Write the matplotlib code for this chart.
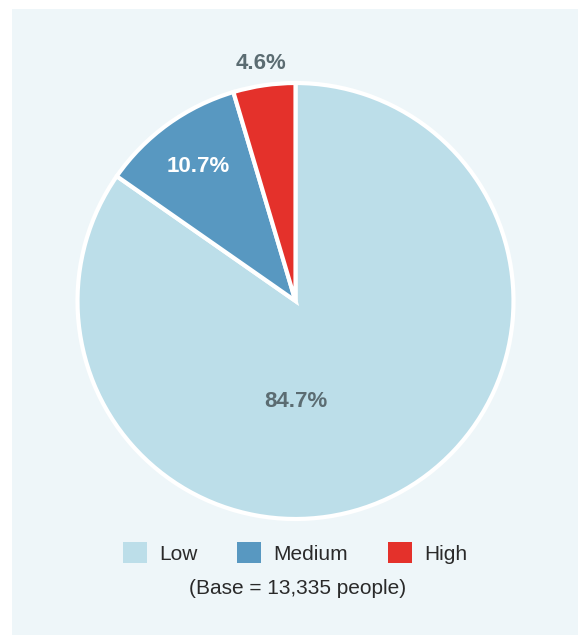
import numpy as np
import matplotlib
matplotlib.use("Agg")
import matplotlib.pyplot as plt
from matplotlib.patches import Patch, Rectangle

categories = ["Low", "Medium", "High"]
values = [84.7, 10.7, 4.6]
labels = ["84.7%", "10.7%", "4.6%"]
colors = ["#bcdee9", "#5898c1", "#e4312b"]
label_colors = ["#5b6c72", "#ffffff", "#5b6c72"]
base_note = "(Base = 13,335 people)"

plt.rcParams['font.family'] = ['Liberation Sans', 'DejaVu Sans']

W, H = 578, 635
fig = plt.figure(figsize=(W / 100, H / 100), dpi=100)
fig.patch.set_facecolor("white")
fig.patches.append(Rectangle((12 / W, 0), 1.0, 1 - 9 / H, transform=fig.transFigure,
                             facecolor="#eef6f9", edgecolor="none", zorder=-5))

cx, cy, r = 295.5, 301, 218
ax = fig.add_axes([(cx - r) / W, (H - cy - r) / H, 2 * r / W, 2 * r / H])
ax.set_zorder(2)

wedges, _ = ax.pie(values, colors=colors, startangle=90, counterclock=False, radius=1,
                   wedgeprops=dict(edgecolor="white", linewidth=3))
ax.set_xlim(-1, 1)
ax.set_ylim(-1, 1)
ax.set_aspect("equal")
ax.axis("off")

radii = [None, 0.76, 1.1]
for i, w in enumerate(wedges):
    w.set_clip_on(False)
    if i == 0:
        x, y = 0.0, -0.46
    else:
        ang = np.deg2rad((w.theta1 + w.theta2) / 2)
        x, y = radii[i] * np.cos(ang), radii[i] * np.sin(ang)
    ax.text(x, y, labels[i], ha="center", va="center", fontsize=16, fontweight="bold",
            color=label_colors[i], clip_on=False)

handles = [Patch(facecolor=c, edgecolor="none") for c in colors]
leg = fig.legend(handles, categories, loc="center", bbox_to_anchor=(295 / W, 1 - 553 / H),
                 ncol=3, frameon=False, fontsize=15, handlelength=1.15, handleheight=1.15,
                 handletextpad=0.6, columnspacing=1.9, labelcolor="#2a2a2a")
leg.set_zorder(3)
fig.text(298 / W, 1 - 589 / H, base_note, ha="center", va="center", fontsize=15,
         color="#2a2a2a", zorder=3)

fig.savefig("out.png", dpi=100)
